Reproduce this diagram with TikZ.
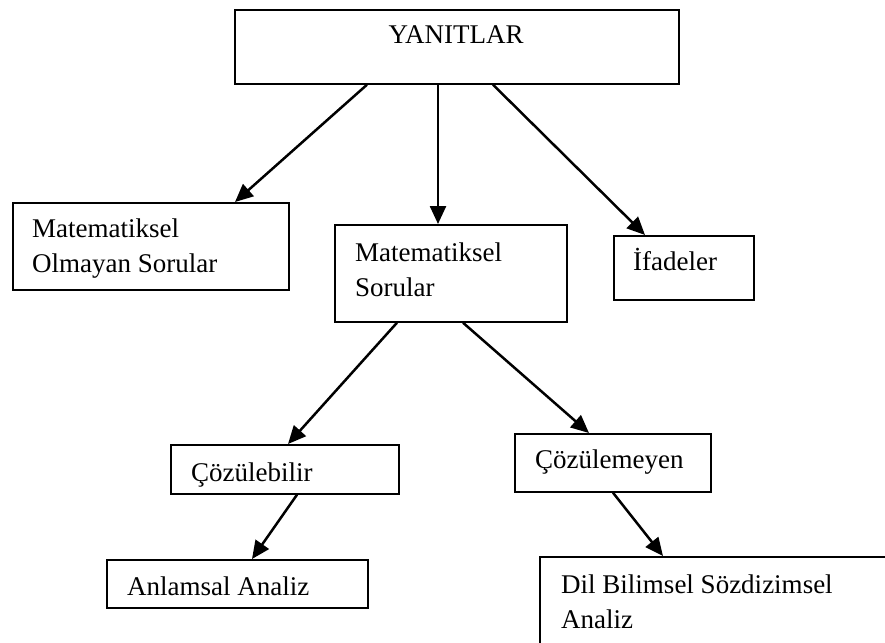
\documentclass[tikz,border=0pt]{standalone}
\usepackage{fontspec}
\setmainfont{Liberation Serif}
\usetikzlibrary{arrows.meta,calc}

\begin{document}
\begin{tikzpicture}[x=1pt,y=-1pt,
  box/.style={draw, line width=1.7pt, rectangle, inner sep=0pt, anchor=north west},
  txt/.style={inner sep=0pt, anchor=base west, align=left,
    font=\fontsize{27}{35}\selectfont},
  link/.style={line width=2.5pt, -{Triangle[length=18pt,width=16pt]}}
]
\clip (0,0) rectangle (885,642);
\fill[white] (0,0) rectangle (885,642);

% boxes
\node[box, minimum width=444pt, minimum height=74pt] (root) at (234,9) {};
\node[box, minimum width=276pt, minimum height=87pt] (nonmath) at (12,202) {};
\node[box, minimum width=232pt, minimum height=97pt] (math) at (334,224) {};
\node[box, minimum width=140pt, minimum height=64pt] (expr) at (613,235) {};
\node[box, minimum width=228pt, minimum height=49pt] (solv) at (170,444) {};
\node[box, minimum width=196pt, minimum height=58pt] (unsolv) at (514,433) {};
\node[box, minimum width=261pt, minimum height=48pt] (sem) at (106,559) {};
\node[box, minimum width=380pt, minimum height=120pt] (syn) at (539,556) {};

% texts (the base anchor of a two-line node sits on its second line)
\node[txt, anchor=base] (root-t) at (456,44) {YANITLAR};
\node[txt] (nonmath-t) at ($(nonmath.north west)+(20,70)$) {Matematiksel\\Olmayan Sorular};
\node[txt] (math-t) at ($(math.north west)+(21,72)$) {Matematiksel\\Sorular};
\node[txt] (expr-t) at ($(expr.north west)+(20,35)$) {İfadeler};
\node[txt] (solv-t) at ($(solv.north west)+(21,37)$) {Çözülebilir};
\node[txt] (unsolv-t) at ($(unsolv.north west)+(21,35)$) {Çözülemeyen};
\node[txt] (sem-t) at ($(sem.north west)+(21,36)$) {Anlamsal Analiz};
\node[txt] (syn-t) at ($(syn.north west)+(22,72)$) {Dil Bilimsel Sözdizimsel\\Analiz};

% connectors
\draw[link] ([xshift=133pt]root.south west) -- ([xshift=223pt]nonmath.north west);
\draw[link] ([xshift=204pt]root.south west) -- ([xshift=104pt]math.north west);
\draw[link] ([xshift=259pt]root.south west) -- ([xshift=32pt]expr.north west);
\draw[link] ([xshift=63pt]math.south west) -- ([xshift=118pt]solv.north west);
\draw[link] ([xshift=129pt]math.south west) -- ([xshift=75pt]unsolv.north west);
\draw[link] ([xshift=127pt]solv.south west) -- ([xshift=146pt]sem.north west);
\draw[link] ([xshift=99pt]unsolv.south west) -- ([xshift=124pt]syn.north west);
\end{tikzpicture}
\end{document}
